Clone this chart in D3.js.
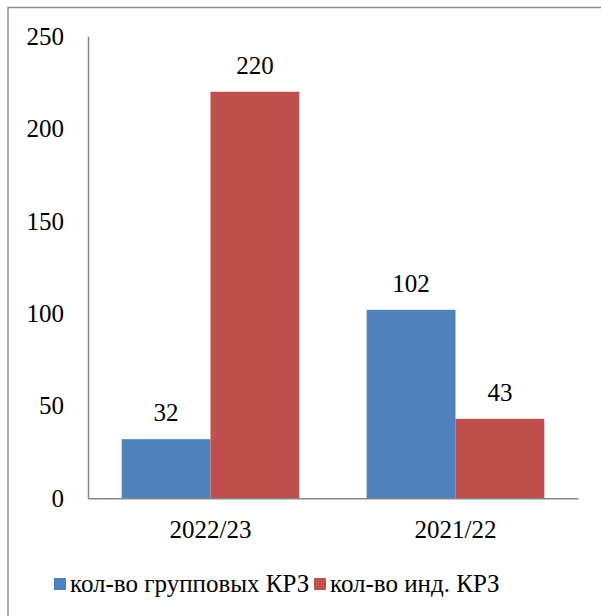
<!DOCTYPE html>
<html>
<head>
  <meta charset="UTF-8">
</head>
<body style="margin:0">
<svg></svg>
<script src="https://d3js.org/d3.v7.min.js"></script>
<script>

let width = 601, height = 616;
let fontFam = "Liberation Serif";
let fontSize = 25;

// data
let categories = ["2022/23", "2021/22"];
let seriesNames = ["кол-во групповых КРЗ", "кол-во инд. КРЗ"];
let groupValues = [32, 102];
let indValues = [220, 43];
let yTicks = [0, 50, 100, 150, 200, 250];
let colors = ["#4F81BD", "#C0504D"];

let rows = categories.map((c, i) => ({cat: c, vals: [groupValues[i], indValues[i]]}));

let svg = d3.select("svg")
    .attr("width", width)
    .attr("height", height);

// outer frame (continues past the window)
svg.append("rect")
    .attr("x", 8).attr("y", 7.5)
    .attr("width", 620).attr("height", 640)
    .attr("fill", "none")
    .attr("stroke", "#8c8c8c")
    .attr("stroke-width", 1.5);

let x0 = d3.scaleBand()
    .domain(categories)
    .range([88, 578])
    .paddingInner(0.275)
    .paddingOuter(0.1375);

let x1 = d3.scaleBand()
    .domain([0, 1])
    .range([0, x0.bandwidth()]);

let y = d3.scaleLinear()
    .domain([0, 250])
    .range([498.3, 36.3]);

// y axis
let yAxis = svg.append("g")
    .attr("transform", "translate(88,0)")
    .call(d3.axisLeft(y).tickValues(yTicks).tickSize(0).tickPadding(24))
    .attr("font-family", fontFam)
    .attr("font-size", fontSize);
yAxis.select(".domain").attr("stroke", "#868686").attr("stroke-width", 1.5);
yAxis.selectAll("text").attr("fill", "#000");

// bars
let groups = svg.append("g")
    .selectAll("g")
    .data(rows)
    .enter()
    .append("g")
    .attr("transform", d => "translate(" + x0(d.cat) + ",0)");

groups.selectAll("rect")
    .data(d => d.vals)
    .enter()
    .append("rect")
    .attr("x", (d, i) => x1(i))
    .attr("y", d => y(d))
    .attr("width", x1.bandwidth())
    .attr("height", d => y(0) - y(d))
    .attr("fill", (d, i) => colors[i]);

groups.selectAll("text")
    .data(d => d.vals)
    .enter()
    .append("text")
    .attr("x", (d, i) => x1(i) + x1.bandwidth() / 2)
    .attr("y", d => y(d) - 18)
    .attr("text-anchor", "middle")
    .attr("font-family", fontFam)
    .attr("font-size", fontSize)
    .text(d => d);

// x axis
let xAxis = svg.append("g")
    .attr("transform", "translate(0," + y(0) + ")")
    .call(d3.axisBottom(x0).tickSize(0).tickPadding(22).tickSizeOuter(0))
    .attr("font-family", fontFam)
    .attr("font-size", fontSize);
xAxis.select(".domain").attr("stroke", "#868686").attr("stroke-width", 1.5);
xAxis.selectAll("text").attr("fill", "#000");

// legend
let legendX = [54, 314];
let legend = svg.append("g")
    .selectAll("g")
    .data(seriesNames)
    .enter()
    .append("g")
    .attr("transform", (d, i) => "translate(" + legendX[i] + ",578)");

legend.append("rect")
    .attr("width", 12).attr("height", 12)
    .attr("fill", (d, i) => colors[i]);

legend.append("text")
    .attr("x", 16)
    .attr("y", 14)
    .attr("font-family", fontFam)
    .attr("font-size", fontSize)
    .text(d => d);

</script>
</body>
</html>
